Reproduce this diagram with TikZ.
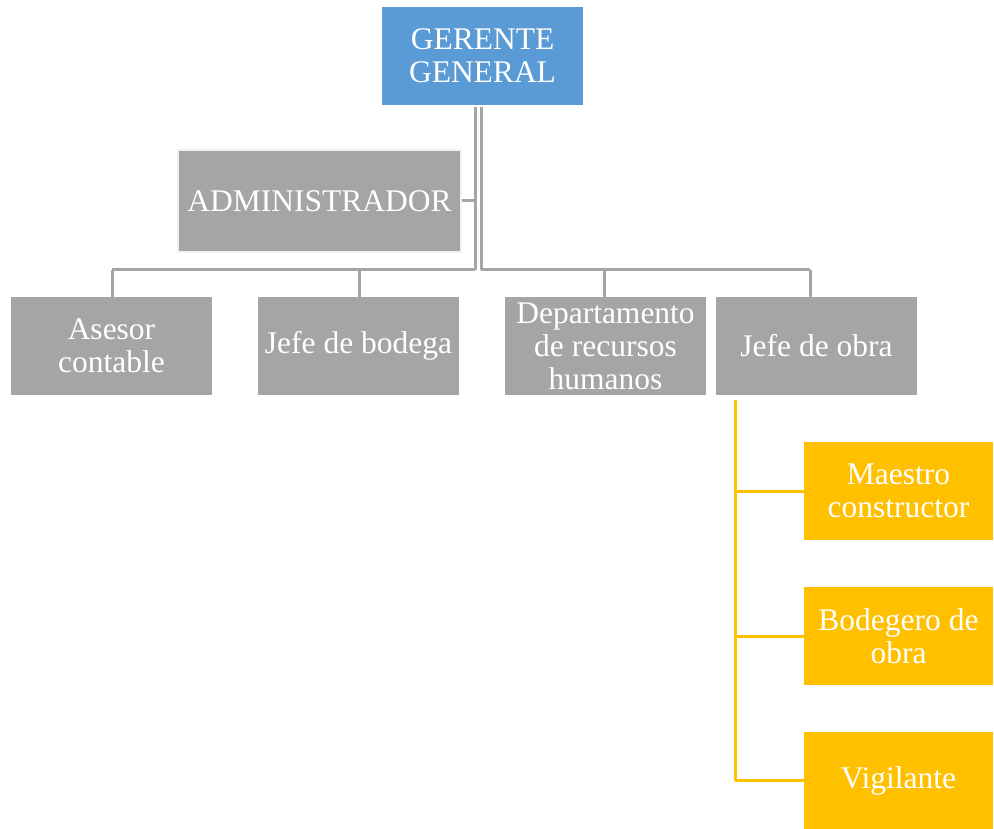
\documentclass[tikz,border=0pt]{standalone}
\usepackage{fontspec}
\setmainfont{Liberation Serif}
\definecolor{blueb}{HTML}{5B9BD5}
\definecolor{grayb}{HTML}{A5A5A5}
\definecolor{yellb}{HTML}{FFC000}
\begin{document}
\begin{tikzpicture}[x=1pt,y=-1pt,
  box/.style={minimum width=201pt,minimum height=98pt,inner sep=0pt,text=white,align=center,font=\fontsize{31.5}{33}\selectfont},
  gbox/.style={box,fill=grayb},
  ybox/.style={box,fill=yellb,minimum width=189pt},
  gline/.style={draw=grayb,line width=3pt},
  yline/.style={draw=yellb,line width=3pt}]
\useasboundingbox (0,0) rectangle (994,829);
\node[box,fill=blueb] (gg) at (482.5,56) {GERENTE\\GENERAL};
\node[gbox,draw=white!90!gray,line width=2pt,minimum width=283pt,minimum height=102pt] (adm) at (319.5,201) {ADMINISTRADOR};
\node[gbox] (ase) at (111.5,346) {Asesor\\contable};
\node[gbox] (bod) at (358.5,346) {Jefe de bodega};
\node[gbox] (rrhh) at (605.5,346) {Departamento\\de recursos\\humanos};
\node[gbox] (obra) at (816.5,346) {Jefe de obra};
\node[ybox] (mae) at (898.5,491) {Maestro\\constructor};
\node[ybox] (bdg) at (898.5,636) {Bodegero de\\obra};
\node[ybox] (vig) at (898.5,780.5) {Vigilante};
% double trunk
\coordinate (tl) at (475,107);
\coordinate (tr) at (481,107);
\coordinate (bl) at (475,270);
\coordinate (br) at (481,270);
\draw[gline] (tl) -- (bl);
\draw[gline] (tr) -- (br);
\coordinate (hl) at (112,270);
\coordinate (hr) at (810,270);
\draw[gline] (hl) -- (bl);
\draw[gline] (br) -- (hr);
\draw[gline] (adm.east) -- (adm.east -| tl);
\draw[gline] (hl) -- (ase.north -| hl);
\draw[gline] (359,270) -- (bod.north -| 359,0);
\draw[gline] (604,270) -- (rrhh.north -| 604,0);
\draw[gline] (hr) -- (obra.north -| hr);
% yellow
\coordinate (yt) at (735,400);
\coordinate (yb) at (735,780.5);
\draw[yline] (yt) -- (yb);
\draw[yline] (mae.west -| yt) -- (mae.west);
\draw[yline] (bdg.west -| yt) -- (bdg.west);
\draw[yline] (yb) -- (vig.west);
\end{tikzpicture}
\end{document}
